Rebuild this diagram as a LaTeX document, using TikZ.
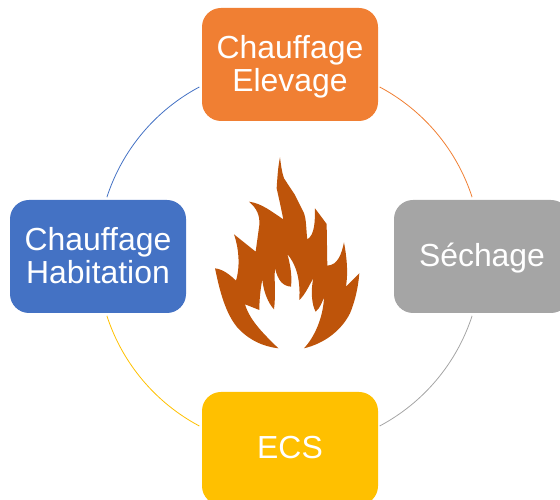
\documentclass[tikz,border=0pt]{standalone}
\usepackage{fontspec}
\setmainfont{Liberation Sans}
\tikzset{
  box/.style={rectangle,rounded corners=19pt,minimum width=176pt,minimum height=113pt,inner sep=0pt},
  boxtext/.style={inner sep=0pt,align=center,text=white,font=\fontsize{31.9pt}{33pt}\selectfont},
  ring/.style={line width=0.8pt}
}
\definecolor{orangebox}{HTML}{F07F33}
\definecolor{bluebox}{HTML}{4472C4}
\definecolor{greybox}{HTML}{A5A5A5}
\definecolor{yellowbox}{HTML}{FFC000}
\definecolor{flamecol}{HTML}{BE540A}
\begin{document}
\begin{tikzpicture}[x=1pt,y=1pt]
\useasboundingbox (0,0) rectangle (560,500);
\clip (0,0) rectangle (560,500);
\coordinate (ctr) at (289.5,243.5);
% ring arcs
\coordinate (trs) at ([shift={(62:192pt)}]ctr);
\coordinate (brs) at ([shift={(-18:192pt)}]ctr);
\coordinate (bls) at ([shift={(198:192pt)}]ctr);
\coordinate (tls) at ([shift={(118:192pt)}]ctr);
\draw[ring,orangebox] (trs) arc[start angle=62,end angle=18,radius=192pt];
\draw[ring,greybox] (brs) arc[start angle=-18,end angle=-62,radius=192pt];
\draw[ring,yellowbox] (bls) arc[start angle=198,end angle=242,radius=192pt];
\draw[ring,bluebox] (tls) arc[start angle=118,end angle=162,radius=192pt];
% boxes
\node[box,fill=orangebox] (top) at (290,435.5) {};
\node[boxtext] (toptext) at ([yshift=-2pt]top.center) {Chauffage\\Elevage};
\node[box,fill=bluebox] (left) at (98,243.5) {};
\node[boxtext] (lefttext) at ([yshift=1pt]left.center) {Chauffage\\Habitation};
\node[box,fill=greybox] (right) at (482,243.5) {};
\node[boxtext] (righttext) at ([yshift=-2pt]right.center) {Séchage};
\node[box,fill=yellowbox] (bottom) at (290,51.5) {};
\node[boxtext] (bottomtext) at ([yshift=1pt]bottom.center) {ECS};
% flame
\begin{scope}[shift={(200,350)},x=0.3333pt,y=-0.3333pt]
\fill[flamecol] (240,22) .. controls (234,50) and (232,85) .. (230,115)
 -- (240,160) -- (250,208)
 .. controls (215,185) and (185,160) .. (147,155)
 .. controls (170,175) and (180,195) .. (178,225)
 -- (167,305) -- (102,253)
 .. controls (115,290) and (122,345) .. (108,392)
 .. controls (90,375) and (70,358) .. (45,355)
 .. controls (55,400) and (70,480) .. (110,530)
 .. controls (145,570) and (190,590) .. (235,595)
 .. controls (200,560) and (150,515) .. (135,463)
 -- (178,480) .. controls (178,445) and (182,415) .. (187,388)
 .. controls (190,425) and (205,460) .. (222,478)
 .. controls (228,435) and (222,390) .. (225,355)
 .. controls (235,395) and (250,408) .. (273,410)
 .. controls (277,375) and (270,340) .. (262,312)
 .. controls (285,340) and (302,380) .. (298,450)
 .. controls (315,435) and (328,405) .. (340,385)
 .. controls (332,420) and (335,465) .. (347,485)
 .. controls (360,475) and (367,455) .. (372,442)
 .. controls (370,500) and (345,560) .. (312,595)
 .. controls (375,580) and (425,540) .. (450,490)
 .. controls (465,455) and (475,410) .. (478,370)
 -- (438,410)
 .. controls (445,365) and (440,320) .. (432,277)
 .. controls (425,310) and (415,345) .. (382,347)
 -- (380,222) -- (345,175)
 .. controls (345,210) and (345,255) .. (322,268)
 .. controls (318,240) and (320,205) .. (310,185)
 -- (285,135) -- (252,85)
 .. controls (245,65) and (243,45) .. (240,22) -- cycle;
\end{scope}
\end{tikzpicture}
\end{document}
